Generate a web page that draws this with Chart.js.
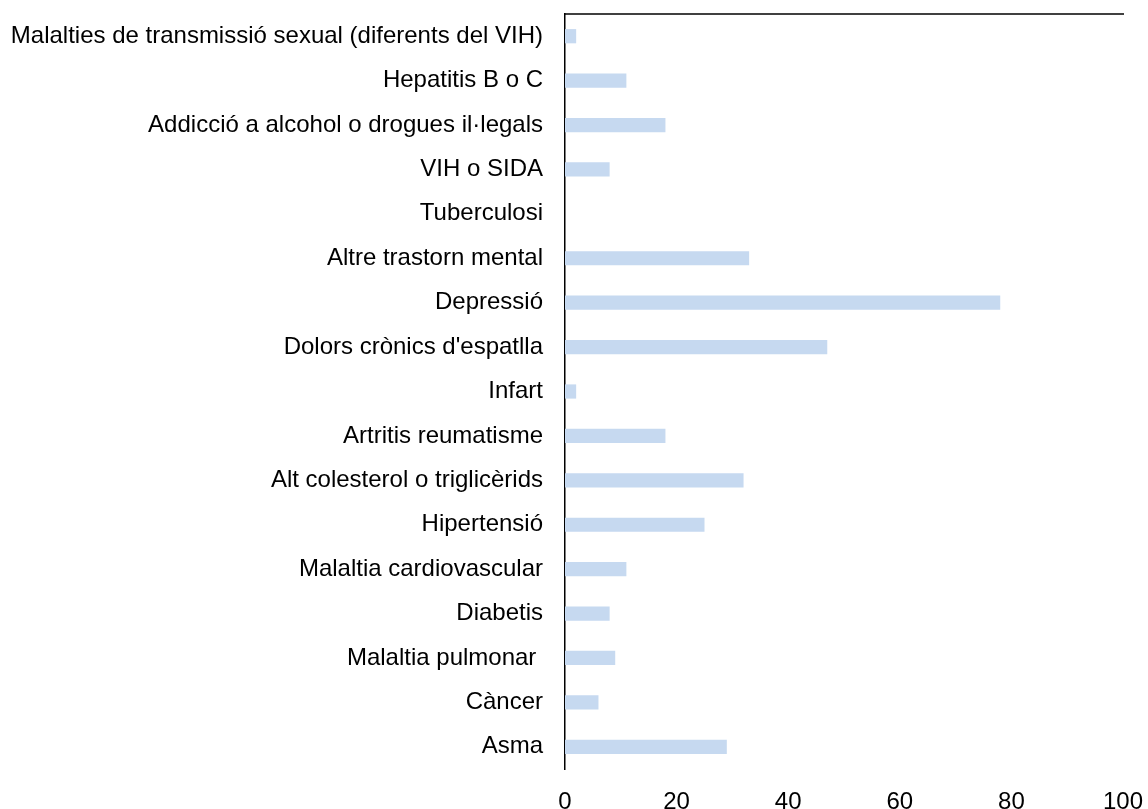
<!DOCTYPE html>
<html>
<head>
<meta charset="utf-8">
<script src="https://cdn.jsdelivr.net/npm/chart.js@4/dist/chart.umd.min.js"></script>
<style>
  html, body { margin: 0; padding: 0; background: #fff; }
  #wrap { width: 1148px; height: 809px; }
</style>
</head>
<body>
<div id="wrap"><canvas id="chart" width="1148" height="809"></canvas></div>
<script>
// categories, top to bottom as in the picture
const categories = [
  'Malalties de transmissió sexual (diferents del VIH)',
  'Hepatitis B o C',
  'Addicció a alcohol o drogues il·legals',
  'VIH o SIDA',
  'Tuberculosi',
  'Altre trastorn mental',
  'Depressió',
  "Dolors crònics d'espatlla",
  'Infart',
  'Artritis reumatisme',
  'Alt colesterol o triglicèrids',
  'Hipertensió',
  'Malaltia cardiovascular',
  'Diabetis',
  'Malaltia pulmonar ',
  'Càncer',
  'Asma'
];
const values = [2, 11, 18, 8, 0, 33, 78, 47, 2, 18, 32, 25, 11, 8, 9, 6, 29];
const xTicks = [0, 20, 40, 60, 80, 100];

// top border line of the plot area
const topLine = {
  id: 'topLine',
  afterDraw(chart) {
    const { ctx, chartArea } = chart;
    ctx.save();
    ctx.strokeStyle = '#000';
    ctx.lineWidth = 1.5;
    ctx.beginPath();
    ctx.moveTo(chartArea.left, chartArea.top);
    ctx.lineTo(chartArea.right + 1, chartArea.top);
    ctx.stroke();
    ctx.restore();
  }
};

const font = { family: 'Liberation Sans, Arial, sans-serif', size: 24 };

new Chart(document.getElementById('chart'), {
  type: 'bar',
  data: {
    labels: categories,
    datasets: [{
      data: values,
      backgroundColor: '#c6d9f0',
      borderWidth: 0,
      barPercentage: 0.32,
      categoryPercentage: 1
    }]
  },
  options: {
    indexAxis: 'y',
    responsive: false,
    animation: false,
    layout: { padding: { top: 14, right: 25, left: 0, bottom: 0 } },
    scales: {
      x: {
        min: 0,
        max: 100,
        afterBuildTicks(scale) {
          scale.ticks = xTicks.map(v => ({ value: v }));
        },
        afterFit(scale) {
          scale.height = 40;
          scale.paddingLeft = 0;
          scale.paddingRight = 0;
        },
        grid: { display: false, drawTicks: false },
        border: { display: false },
        ticks: { color: '#000', font, padding: 19, maxRotation: 0 }
      },
      y: {
        afterFit(scale) {
          scale.width = 565;
          scale.paddingTop = 0;
          scale.paddingBottom = 0;
        },
        grid: { display: false, drawTicks: false },
        border: { display: true, color: '#000', width: 1.5 },
        ticks: { color: '#000', font, padding: 22, autoSkip: false }
      }
    },
    plugins: {
      legend: { display: false },
      tooltip: { enabled: false }
    }
  },
  plugins: [topLine]
});
</script>
</body>
</html>
